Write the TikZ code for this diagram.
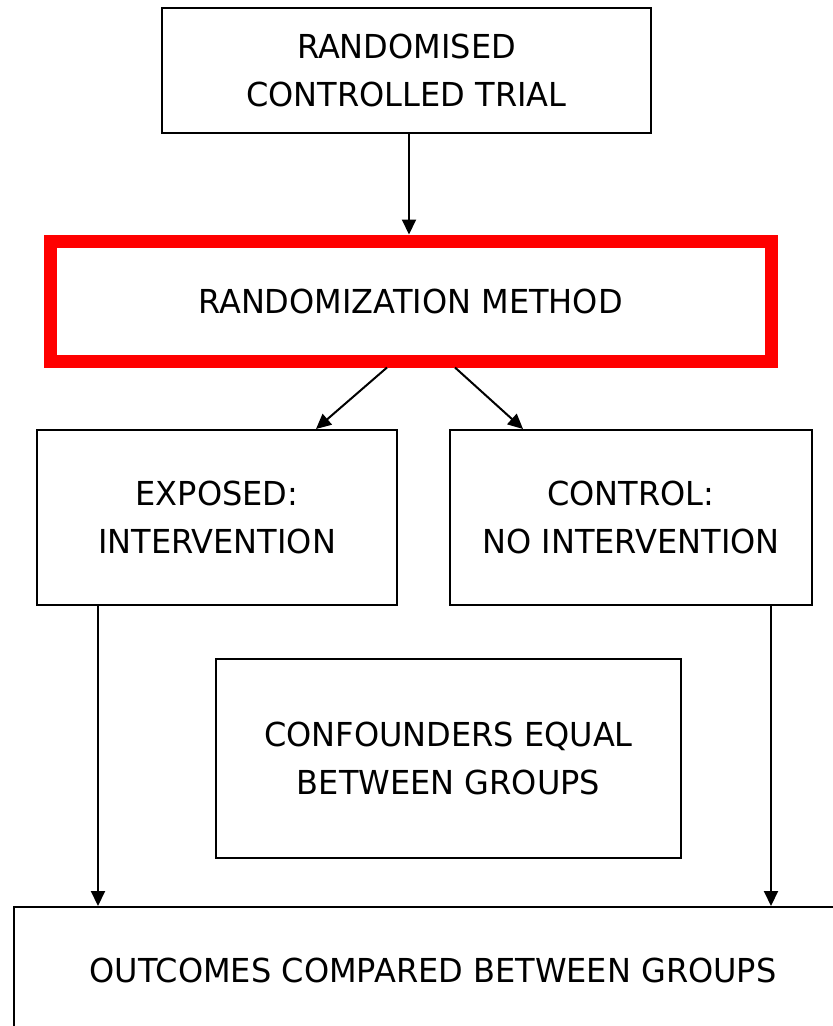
\documentclass[tikz,border=0pt]{standalone}
\usepackage{fontspec}
\setmainfont[FakeStretch=0.97]{DejaVu Sans}
\usetikzlibrary{arrows.meta}
\tikzset{
  box/.style={draw=black, line width=2pt, rectangle, align=center, inner sep=0pt,
    font=\fontsize{33}{48}\selectfont},
  redbox/.style={box, draw={rgb,255:red,255;green,0;blue,0}, line width=13pt},
  arr/.style={draw=black, line width=2pt, -{Triangle[length=15pt,width=14pt]}}
}
\begin{document}
\begin{tikzpicture}[x=1pt,y=-1pt]
\useasboundingbox (0,0) rectangle (833,1026);
\clip (0,0) rectangle (833,1026);
\node[box, minimum width=489pt, minimum height=125pt] (top) at (406.5,70.5) {RANDOMISED\\CONTROLLED TRIAL};
\node[redbox, minimum width=721pt, minimum height=120pt] (red) at (410.5,301) {RANDOMIZATION METHOD};
\node[box, minimum width=360pt, minimum height=175pt] (exp) at (217,517.5) {EXPOSED:\\INTERVENTION};
\node[box, minimum width=362pt, minimum height=175pt] (ctl) at (631,517.5) {CONTROL:\\NO INTERVENTION};
\node[box, minimum width=465pt, minimum height=199pt] (conf) at (448.5,758.5) {CONFOUNDERS EQUAL\\BETWEEN GROUPS};
\node[box, minimum width=838pt, minimum height=126pt] (out) at (433,970) {OUTCOMES COMPARED BETWEEN GROUPS};
\draw[arr] ([xshift=2.5pt]top.south) -- ([xshift=2.5pt]top.south |- red.north);
\draw[arr] ([xshift=-23.5pt]red.south) -- ([xshift=99pt]exp.north);
\draw[arr] ([xshift=44.5pt]red.south) -- ([xshift=-108pt]ctl.north);
\draw[arr] ([xshift=-119pt]exp.south) -- ([xshift=-119pt]exp.south |- out.north);
\draw[arr] ([xshift=140pt]ctl.south) -- ([xshift=140pt]ctl.south |- out.north);
\end{tikzpicture}
\end{document}
